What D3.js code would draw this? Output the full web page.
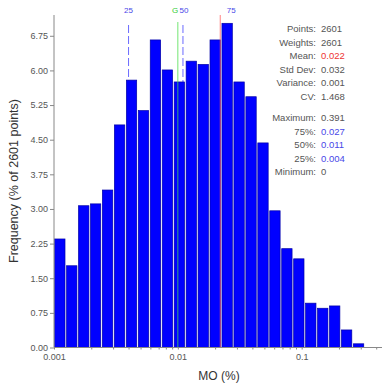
<!DOCTYPE html>
<html>
<head>
<meta charset="utf-8">
<script src="https://cdn.jsdelivr.net/npm/d3@7"></script>
<style>
  html, body { margin: 0; padding: 0; background: #fff; }
  svg { display: block; font-family: "Liberation Sans", Arial, sans-serif; }
</style>
</head>
<body>
<svg id="chart" width="383" height="388"></svg>
<script>
// Histogram of MO (%) on a log axis: bin lower edges (last entry closes the final bin)
const binEdges = [0.001, 0.00125, 0.00156, 0.00195, 0.00243, 0.00304, 0.00380, 0.00474,
  0.00592, 0.00740, 0.00924, 0.01154, 0.01441, 0.01799, 0.02247, 0.02806, 0.03504,
  0.04376, 0.05465, 0.06824, 0.08522, 0.1064, 0.1329, 0.1660, 0.2073, 0.2588, 0.3232];
// Frequency of each bin, % of 2601 points
const frequencies = [2.35, 1.77, 3.07, 3.11, 3.41, 4.82, 5.79, 5.13, 6.66, 6.01, 5.75,
  6.20, 6.13, 6.66, 7.02, 5.75, 5.43, 4.43, 2.96, 2.14, 1.92, 0.96, 0.85, 0.90, 0.38, 0.08];

const yTicks = [0, 0.75, 1.5, 2.25, 3, 3.75, 4.5, 5.25, 6, 6.75];
const xTickLabels = [0.001, 0.01, 0.1];

// Reference markers drawn across the plot
const markers = [
  { name: "25", value: 0.004, kind: "quartile" },
  { name: "G",  value: 0.010, kind: "geo" },
  { name: "50", value: 0.011, kind: "quartile" },
  { name: "mean", value: 0.022, kind: "mean" },
  { name: "75", value: 0.027, kind: "quartile" }
];

// Summary statistics panel
const statLabels = ["Points:", "Weights:", "Mean:", "Std Dev:", "Variance:", "CV:",
  "Maximum:", "75%:", "50%:", "25%:", "Minimum:"];
const statValues = ["2601", "2601", "0.022", "0.032", "0.001", "1.468",
  "0.391", "0.027", "0.011", "0.004", "0"];
const statKinds = ["plain", "plain", "mean", "plain", "plain", "plain",
  "plain", "quartile", "quartile", "quartile", "plain"];

const svg = d3.select("#chart");
const plotLeft = 54, plotRight = 382, plotTop = 15, plotBottom = 347.5;

const x = d3.scaleLog().domain([0.001, 0.4454]).range([plotLeft, plotRight]);
const y = d3.scaleLinear().domain([0, 7.2]).range([plotBottom, plotTop]);

const bins = frequencies.map((f, i) => ({ x0: binEdges[i], x1: binEdges[i + 1], f }));

const markerColor = { quartile: "#6a6aff", geo: "#44dd44", mean: "#ff5a5a" };

// Quartile lines sit behind the bars
const behind = svg.append("g");
markers.filter(m => m.kind === "quartile").forEach(m => {
  behind.append("line")
    .attr("x1", x(m.value)).attr("x2", x(m.value))
    .attr("y1", 25).attr("y2", plotBottom)
    .attr("stroke", markerColor.quartile)
    .attr("stroke-width", 1)
    .attr("stroke-dasharray", "8,3");
});

// Bars
svg.append("g").selectAll("rect").data(bins).join("rect")
  .attr("x", d => x(d.x0) + 0.6)
  .attr("width", d => x(d.x1) - x(d.x0) - 1.6)
  .attr("y", d => y(d.f))
  .attr("height", d => plotBottom - y(d.f))
  .attr("fill", "#0000ff")
  .attr("stroke", "#0000a8")
  .attr("stroke-width", 0.7);

// Mean and geometric-mean lines over the bars, plus marker captions
const front = svg.append("g");
markers.forEach(m => {
  if (m.kind !== "quartile") {
    front.append("line")
      .attr("x1", x(m.value)).attr("x2", x(m.value))
      .attr("y1", m.kind === "mean" ? 15 : 22)
      .attr("y2", plotBottom)
      .attr("stroke", markerColor[m.kind])
      .attr("stroke-width", 1)
      .attr("stroke-opacity", 0.75);
  }
  if (m.kind !== "mean") {
    front.append("text")
      .attr("x", m.kind === "geo" ? x(m.value) + 0.5 : x(m.value) + (m.name === "50" ? 1 : 0))
      .attr("y", 13)
      .attr("text-anchor", m.kind === "geo" ? "end" : "middle")
      .attr("font-size", 8)
      .attr("fill", m.kind === "geo" ? "#33cc33" : "#4848e8")
      .text(m.name);
  }
});

// Y axis
const yAxis = d3.axisLeft(y).tickValues(yTicks).tickSize(4).tickPadding(2)
  .tickFormat(d3.format(".2f"));
const gy = svg.append("g").attr("transform", `translate(${plotLeft},0)`).call(yAxis);
gy.select(".domain").attr("d", `M0,${plotTop}V${plotBottom}`).attr("stroke", "#888");
gy.selectAll(".tick line").attr("stroke", "#888");
gy.selectAll(".tick text").attr("fill", "#555").attr("font-size", 9)
  .attr("font-family", "Liberation Sans, Arial, sans-serif");

// X axis (log, minor ticks unlabeled)
const isDecade = d => Math.abs(Math.log10(d) - Math.round(Math.log10(d))) < 1e-9;
const xAxis = d3.axisBottom(x).tickSize(2).tickPadding(4)
  .tickFormat(d => isDecade(d) && xTickLabels.includes(+d.toPrecision(1)) ? String(+d.toPrecision(1)) : "");
const gx = svg.append("g").attr("transform", `translate(0,${plotBottom})`).call(xAxis);
gx.select(".domain").attr("d", `M${plotLeft},0H${plotRight}`).attr("stroke", "#888");
gx.selectAll(".tick line").attr("stroke", "#888");
gx.selectAll(".tick text").attr("fill", "#555").attr("font-size", 9)
  .attr("font-family", "Liberation Sans, Arial, sans-serif");

// Axis titles
svg.append("text")
  .attr("x", 219).attr("y", 380)
  .attr("text-anchor", "middle").attr("font-size", 12).attr("fill", "#333")
  .text("MO (%)");
svg.append("text")
  .attr("transform", "translate(17.5,181) rotate(-90)")
  .attr("text-anchor", "middle").attr("font-size", 12.5).attr("fill", "#333")
  .text("Frequency (% of 2601 points)");

// Statistics panel
const rowY = [29, 42.5, 56, 69.5, 83, 96.5, 118, 131.5, 145, 158.5, 172];
const valueColor = { plain: "#555", mean: "#ee3333", quartile: "#4848e8" };
const sg = svg.append("g").attr("font-size", 9.5);
statLabels.forEach((lab, i) => {
  sg.append("text").attr("x", 316).attr("y", rowY[i]).attr("dy", "0.35em")
    .attr("text-anchor", "end").attr("fill", "#555").text(lab);
  sg.append("text").attr("x", 321).attr("y", rowY[i]).attr("dy", "0.35em")
    .attr("fill", valueColor[statKinds[i]]).text(statValues[i]);
});
</script>
</body>
</html>
